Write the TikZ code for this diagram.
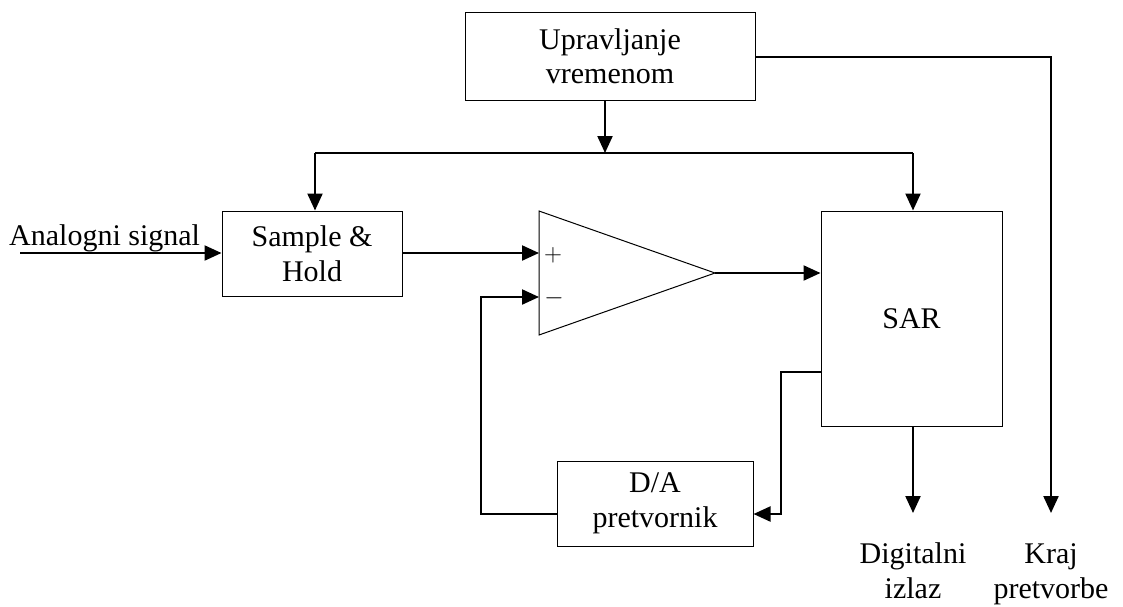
\documentclass[tikz,border=0pt]{standalone}
\usepackage{fontspec}
\setmainfont{Liberation Serif}
\usetikzlibrary{arrows.meta}
\begin{document}
\begin{tikzpicture}[x=1pt,y=-1pt,
  every node/.style={font=\fontsize{30}{34.5}\selectfont},
  blk/.style={draw,line width=1pt,align=center,inner sep=0pt},
  conn/.style={line width=2.2pt,-{Triangle[length=17pt,width=15pt]}},
  wire/.style={line width=2.2pt},
  lbl/.style={align=center,inner sep=0pt}]
\useasboundingbox (0,0) rectangle (1123,606);
\node[blk,minimum width=290pt,minimum height=88pt] (upr) at (610,56) {Upravljanje\\vremenom};
\node[blk,minimum width=180pt,minimum height=85pt] (sh) at (312,253.5) {Sample \&\\Hold};
\node[blk,minimum width=181pt,minimum height=215pt] (sar) at (911.5,318.5) {SAR};
\node[blk,minimum width=196pt,minimum height=85pt] (da) at (655,503.5) {D/A\\pretvornik};
% comparator
\coordinate (ctop) at (539,211);
\coordinate (cbot) at (539,335);
\coordinate (cout) at (715,273);
\coordinate (cplus) at (539,253);
\coordinate (cminus) at (539,297);
\draw[line width=1pt,line join=miter] (ctop) -- (cout) -- (cbot) -- cycle;
\node[lbl,font=\fontsize{28}{30}\selectfont] (plus) at (553,255) {$+$};
\node[lbl,font=\fontsize{28}{30}\selectfont] (minus) at (554,298) {$-$};
% input
\node[lbl,anchor=base west] (ain) at (9,245) {Analogni signal};
\coordinate (ainL) at (20,253);
\draw[conn] (ainL) -- (sh.west |- ainL);
% timing
\coordinate (bus) at (605,153);
\coordinate (busL) at (315,153);
\coordinate (busR) at (913,153);
\draw[conn] (upr.south -| bus) -- (bus);
\draw[wire] (busL) -- (busR);
\draw[conn] (busL) -- (busL |- sh.north);
\draw[conn] (busR) -- (busR |- sar.north);
\coordinate (kraj) at (1051,513);
\draw[conn] (upr.east |- 0,57) -- (1051,57) -- (kraj);
% signal path
\draw[conn] (sh.east |- cplus) -- (cplus);
\draw[conn] (cout) -- (sar.west |- cout);
\draw[conn] (sar.west |- 0,372) -- (781,372) -- (781,514) -- (da.east |- 0,514);
\draw[conn] (da.west |- 0,514) -- (481,514) -- (481,297) -- (cminus);
\coordinate (dig) at (913,513);
\draw[conn] (sar.south -| dig) -- (dig);
% labels
\node[lbl,anchor=base] (digl) at (913,598) {Digitalni\\izlaz};
\node[lbl,anchor=base] (krajl) at (1051,598) {Kraj\\pretvorbe};
\end{tikzpicture}
\end{document}
